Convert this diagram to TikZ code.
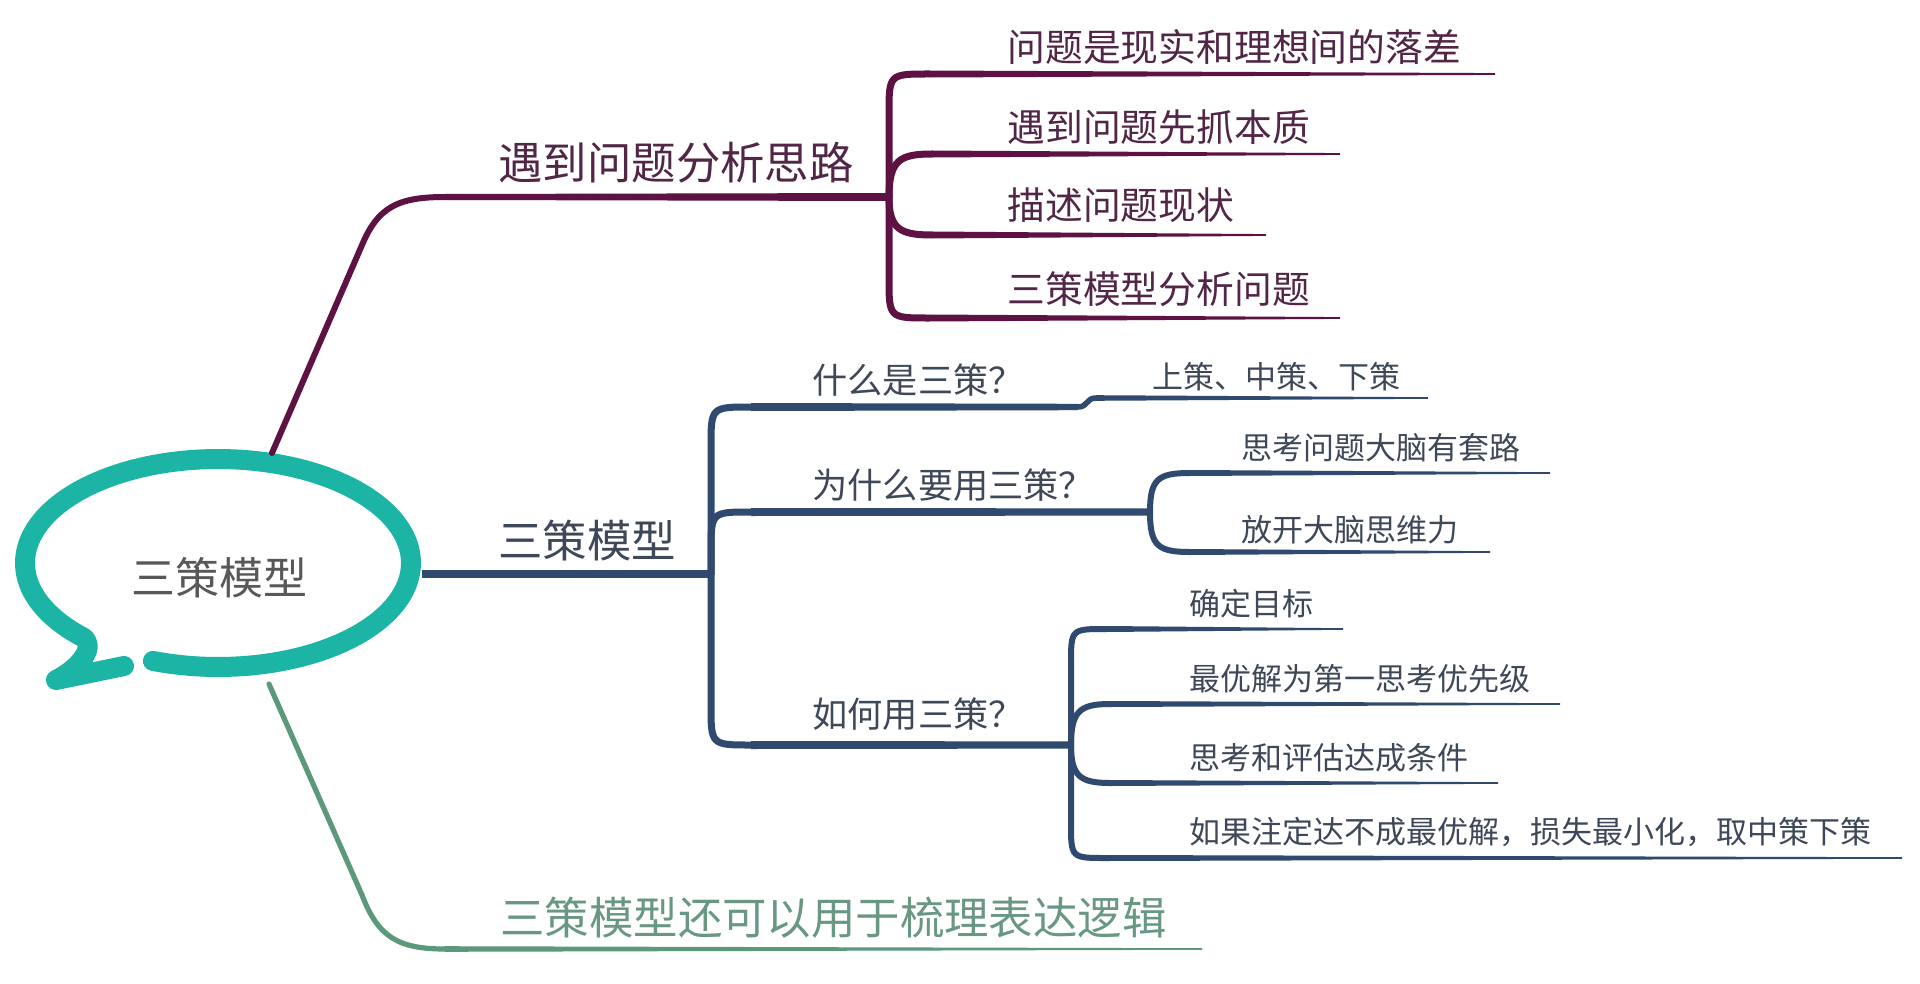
\documentclass[tikz,border=0pt]{standalone}
\usepackage{fontspec}
\newfontfamily\cjk{Noto Sans CJK SC}
\usetikzlibrary{calc}
\definecolor{ringc}{RGB}{28,180,165}
\definecolor{plum}{RGB}{94,18,68}
\definecolor{navy}{RGB}{47,74,110}
\definecolor{sage}{RGB}{92,152,122}
\definecolor{plumtext}{RGB}{82,38,70}
\definecolor{navytext}{RGB}{62,72,88}
\definecolor{sagetext}{RGB}{104,152,130}
\definecolor{graytext}{RGB}{88,88,88}
% taper: colour, from, to, half width at start, half width at end (px)
\newcommand\taper[5]{\fill[#1] ($(#2)+(0,#4)$) -- ($(#3)+(0,#5)$) -- ($(#3)+(0,-#5)$) -- ($(#2)+(0,-#4)$) -- cycle;}
\tikzset{
  txt/.style={inner sep=0pt, anchor=west},
  tbig/.style={txt, font=\cjk\fontsize{22.2}{25}\selectfont},
  tmid/.style={txt, font=\cjk\fontsize{18.9}{22}\selectfont},
  tsub/.style={txt, font=\cjk\fontsize{17.6}{21}\selectfont},
  tsmall/.style={txt, font=\cjk\fontsize{15.5}{18}\selectfont},
  pline/.style={plum, line width=3.5pt, line cap=round},
  bline/.style={navy, line width=3.5pt, line cap=round},
  bthin/.style={navy, line width=3pt, line cap=round},
}
\begin{document}
\begin{tikzpicture}[x=0.5pt, y=-0.5pt]
\useasboundingbox (0,0) rectangle (1920,984);
\fill[white] (0,0) rectangle (1920,984);

% ---------- central bubble ----------
\draw[ringc, line width=10pt, line cap=round, line join=round]
  (124,666) -- (56,680) .. controls (82,667) and (97,644) .. (81.5,636.5)
  -- plot[domain=-225:109.7, samples=140] ({218+193*cos(\x)},{563+104*sin(\x)});
\node[inner sep=0pt, font=\cjk\fontsize{22}{25}\selectfont, text=graytext] (root) at (219,578) {三策模型};
\coordinate (rtop) at (272,453);
\coordinate (rright) at (422,574);
\coordinate (rbot) at (269,684);

% ---------- purple branch ----------
\coordinate (pa) at (445,197);
\coordinate (pJ) at (889,197);
\draw[plum, line width=3pt, line cap=round] (rtop) -- (362,245) .. controls (378,207) and (398,197) .. (pa);
\taper{plum}{pa}{pJ}{3}{4}
\node[tbig, text=plumtext] (p0) at (498,163) {遇到问题分析思路};

\coordinate (p1s) at (929,74);  \coordinate (p1e) at (1495,74);
\coordinate (p2s) at (932,154); \coordinate (p2e) at (1340,154);
\coordinate (p3s) at (932,235); \coordinate (p3e) at (1266,235);
\coordinate (p4s) at (929,318); \coordinate (p4e) at (1340,318);
\draw[pline] (pJ) -- (889,114) .. controls (889,74) .. (p1s);
\draw[pline] (pJ) .. controls (889,160) and (900,154) .. (p2s);
\draw[pline] (pJ) .. controls (889,229) and (900,235) .. (p3s);
\draw[pline] (pJ) -- (889,278) .. controls (889,318) .. (p4s);
\taper{plum}{p1s}{p1e}{3.5}{0.9}
\taper{plum}{p2s}{p2e}{3.5}{0.9}
\taper{plum}{p3s}{p3e}{3.5}{0.9}
\taper{plum}{p4s}{p4e}{3.5}{0.9}
\node[tmid, text=plumtext] (p1) at (1007,47) {问题是现实和理想间的落差};
\node[tmid, text=plumtext] (p2) at (1007,127) {遇到问题先抓本质};
\node[tmid, text=plumtext] (p3) at (1007,205) {描述问题现状};
\node[tmid, text=plumtext] (p4) at (1007,289) {三策模型分析问题};

% ---------- blue branch ----------
\coordinate (bJ) at (711,574);
\taper{navy}{rright}{bJ}{4}{4}
\node[tbig, text=navytext] (b0) at (498,541) {三策模型};

% child 1
\coordinate (b1s) at (751,407); \coordinate (b1m) at (1078,407);
\coordinate (b1n) at (1096,398); \coordinate (b1e) at (1428,398);
\draw[bline] (bJ) -- (711,447) .. controls (711,407) .. (b1s);
\taper{navy}{b1s}{b1m}{4}{3.2}
\draw[navy, line width=2.8pt] (b1m) .. controls (1088,407) and (1086,398) .. (b1n);
\taper{navy}{b1n}{b1e}{2.8}{0.8}
\node[tsub, text=navytext] (b1) at (812,380) {什么是三策？};
\node[tsmall, text=navytext] (b11) at (1152,377) {上策、中策、下策};

% child 2
\coordinate (b2s) at (751,512); \coordinate (b2J) at (1150,512);
\draw[bline] (bJ) -- (711,552) .. controls (711,512) .. (b2s);
\taper{navy}{b2s}{b2J}{4}{3.6}
\node[tsub, text=navytext] (b2) at (812,485) {为什么要用三策？};
\coordinate (b21s) at (1190,473); \coordinate (b21e) at (1550,473);
\coordinate (b22s) at (1190,552); \coordinate (b22e) at (1490,552);
\draw[bthin] (b2J) .. controls (1150,479) and (1158,473) .. (b21s);
\draw[bthin] (b2J) .. controls (1150,546) and (1158,552) .. (b22s);
\taper{navy}{b21s}{b21e}{3}{0.8}
\taper{navy}{b22s}{b22e}{3}{0.8}
\node[tsmall, text=navytext] (b21) at (1241,448) {思考问题大脑有套路};
\node[tsmall, text=navytext] (b22) at (1241,530) {放开大脑思维力};

% child 3
\coordinate (b3s) at (751,745); \coordinate (b3J) at (1071,745);
\draw[bline] (bJ) -- (711,705) .. controls (711,745) .. (b3s);
\taper{navy}{b3s}{b3J}{4}{3.6}
\node[tsub, text=navytext] (b3) at (812,714) {如何用三策？};
\coordinate (b31s) at (1106,629); \coordinate (b31e) at (1343,629);
\coordinate (b32s) at (1110,704); \coordinate (b32e) at (1560,704);
\coordinate (b33s) at (1110,783); \coordinate (b33e) at (1498,783);
\coordinate (b34s) at (1106,858); \coordinate (b34e) at (1902,858);
\draw[bthin] (b3J) -- (1071,664) .. controls (1071,629) .. (b31s);
\draw[bthin] (b3J) .. controls (1071,711) and (1080,704) .. (b32s);
\draw[bthin] (b3J) .. controls (1071,776) and (1080,783) .. (b33s);
\draw[bthin] (b3J) -- (1071,823) .. controls (1071,858) .. (b34s);
\taper{navy}{b31s}{b31e}{3}{0.8}
\taper{navy}{b32s}{b32e}{3}{0.8}
\taper{navy}{b33s}{b33e}{3}{0.8}
\taper{navy}{b34s}{b34e}{3}{0.8}
\node[tsmall, text=navytext] (b31) at (1189,604) {确定目标};
\node[tsmall, text=navytext] (b32) at (1189,679) {最优解为第一思考优先级};
\node[tsmall, text=navytext] (b33) at (1189,758) {思考和评估达成条件};
\node[tsmall, text=navytext] (b34) at (1189,832) {如果注定达不成最优解，损失最小化，取中策下策};

% ---------- green branch ----------
\coordinate (ga) at (445,949); \coordinate (ge) at (1202,949);
\draw[sage, line width=2.6pt, line cap=round] (rbot) -- (362,895) .. controls (378,937) and (398,949) .. (ga);
\taper{sage}{ga}{ge}{2.8}{0.8}
\node[tbig, text=sagetext] (g0) at (500,918) {三策模型还可以用于梳理表达逻辑};
\end{tikzpicture}
\end{document}
